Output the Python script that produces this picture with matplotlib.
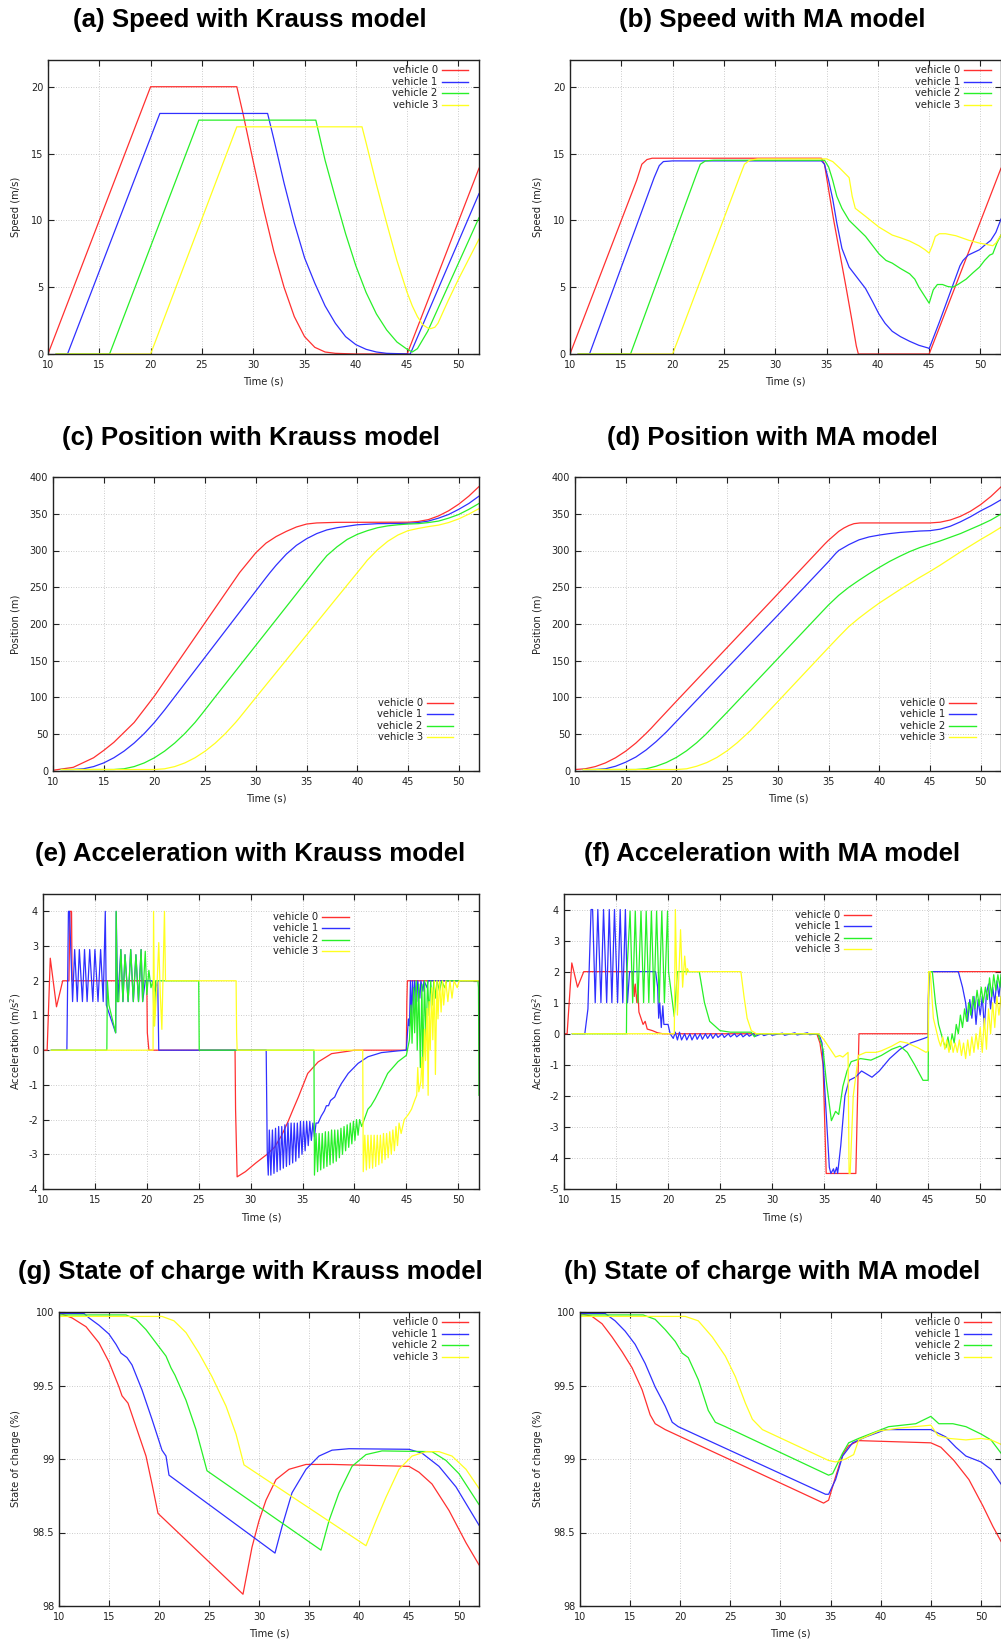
import matplotlib
matplotlib.use("Agg")
import matplotlib.pyplot as plt
from matplotlib.lines import Line2D
from matplotlib.ticker import FormatStrFormatter

W, H = 1001, 1643
COLORS = ['#ff3030', '#3030ff', '#28f028', '#ffff20']
LABELS = ['vehicle 0', 'vehicle 1', 'vehicle 2', 'vehicle 3']

# ---- speed, Krauss (t, m/s)
spd_k0 = [(10, 0), (20, 20), (28.4, 20), (29, 18), (30, 14.4), (31, 10.9), (32, 7.7), (33, 5.0),
          (34, 2.8), (35, 1.3), (36, 0.5), (37, 0.15), (38, 0.05), (40, 0), (45, 0), (52, 13.9)]
spd_k1 = [(10.8, 0), (11.9, 0), (20.9, 18), (31.4, 18), (32, 16.1), (33, 12.8), (34, 9.8), (35, 7.2),
          (36, 5.3), (37, 3.6), (38, 2.3), (39, 1.3), (40, 0.7), (41, 0.35), (42, 0.15), (43, 0.05),
          (45.3, 0), (52, 12.0)]
spd_k2 = [(10.8, 0), (16.0, 0), (24.7, 17.5), (36.1, 17.5), (37, 14.5), (38, 11.7), (39, 9.0), (40, 6.6),
          (41, 4.6), (42, 3.0), (43, 1.8), (44, 0.9), (45, 0.35), (45.5, 0.15), (46, 0.4), (47, 1.7),
          (48, 3.4), (49, 5.1), (50, 6.8), (51, 8.5), (52, 10.2)]
spd_k3 = [(10.8, 0), (20.0, 0), (28.4, 17), (40.6, 17), (41, 15.8), (42, 12.7), (43, 9.8), (44, 7.0),
          (45, 4.6), (45.5, 3.6), (46, 2.8), (46.5, 2.2), (47, 1.95), (47.3, 1.9), (47.7, 2.0), (48, 2.3),
          (49, 4.0), (50, 5.6), (51, 7.1), (52, 8.6)]

# ---- speed, MA
spd_m0 = [(10, 0), (16.5, 13.0), (17, 14.2), (17.5, 14.55), (18, 14.65), (34.5, 14.65), (34.8, 14.2),
          (35.2, 12.3), (35.7, 10.0), (36.3, 7.5), (36.9, 5.0), (37.5, 2.4), (37.9, 0.6), (38.1, 0),
          (45, 0), (52, 13.9)]
spd_m1 = [(10.8, 0), (11.9, 0), (18.2, 13.2), (18.7, 14.1), (19.1, 14.4), (20, 14.45), (34.5, 14.45),
          (34.8, 14.2), (35.2, 13.0), (35.6, 11.6), (36, 9.8), (36.5, 7.9), (37.2, 6.5), (38, 5.7),
          (38.8, 4.9), (39.5, 3.9), (40.1, 3.0), (40.7, 2.3), (41.4, 1.7), (42.2, 1.3), (43.1, 0.95),
          (44, 0.65), (44.9, 0.45), (45, 0.4), (46, 2.4), (47, 4.5), (48, 6.6), (48.3, 7.0), (48.8, 7.4),
          (49.9, 7.8), (50.5, 8.2), (51, 8.5), (51.5, 9.1), (52, 10.1)]
spd_m2 = [(10.8, 0), (15.9, 0), (22.3, 13.4), (22.7, 14.2), (23.2, 14.45), (24, 14.5), (34.8, 14.5),
          (35.2, 14.0), (35.6, 13.0), (36, 11.8), (36.5, 10.9), (37.2, 10.0), (38, 9.4), (38.8, 8.8),
          (39.5, 8.1), (40.1, 7.5), (40.8, 7.0), (41.4, 6.8), (42.2, 6.4), (43.1, 6.0), (43.6, 5.6),
          (44, 5.0), (44.5, 4.4), (45, 3.8), (45.4, 4.8), (45.8, 5.2), (46.3, 5.2), (46.8, 5.05),
          (47.3, 5.0), (47.8, 5.2), (48.6, 5.6), (49.3, 6.1), (49.9, 6.5), (50.4, 7.0), (50.9, 7.4),
          (51.2, 7.5), (51.6, 8.3), (52, 8.9)]
spd_m3 = [(10.8, 0), (20.0, 0), (26.6, 13.4), (27.0, 14.2), (27.5, 14.5), (28.3, 14.6), (35, 14.6),
          (35.6, 14.4), (36.3, 13.9), (37.2, 13.2), (37.5, 11.8), (37.8, 10.9), (38.3, 10.6), (38.8, 10.3),
          (40.1, 9.5), (41.4, 8.9), (42.2, 8.7), (43.1, 8.45), (44, 8.1), (44.6, 7.8), (45, 7.55),
          (45.3, 8.1), (45.6, 8.8), (46, 9.0), (46.6, 9.0), (47.6, 8.85), (48.9, 8.5), (49.9, 8.3),
          (50.9, 8.15), (51.2, 8.1), (51.5, 8.3), (52, 8.9)]

# ---- position, Krauss (t, m)
pos_k0 = [(10, 1), (12, 5), (14, 18), (15, 28), (16, 39), (18, 66), (20, 102), (22, 142), (24, 182),
          (26, 222), (28, 262), (28.4, 270), (30, 297), (31, 310), (32, 319), (33, 326), (34, 332),
          (35, 336), (36, 337.5), (38, 338.3), (45, 338.5), (46, 339.5), (47, 342), (48, 347), (49, 354),
          (50, 363), (51, 374), (52, 387)]
pos_k1 = [(10.8, 2), (12, 2), (13, 3), (14, 6), (15, 11), (16, 18), (17, 27), (18, 38), (19, 51),
          (20, 66), (21, 83), (23, 119), (25, 155), (27, 191), (29, 227), (31, 263), (31.4, 270),
          (32, 280), (33, 295), (34, 307), (35, 316), (36, 323), (37, 328), (38, 331), (40, 335),
          (42, 336.5), (45, 337), (46, 338), (47, 340), (48, 344), (49, 349), (50, 356), (51, 364),
          (52, 374)]
pos_k2 = [(10.8, 2), (16, 2), (17, 3), (18, 6), (19, 11), (20, 18), (21, 27), (22, 38), (23, 51),
          (24, 66), (24.7, 78), (26, 101), (28, 136), (30, 171), (32, 206), (34, 241), (36.1, 278),
          (37, 293), (38, 305), (39, 315), (40, 322), (41, 327), (42, 331), (43, 333.5), (44, 335),
          (45, 336), (46, 336.5), (47, 338), (48, 340), (49, 344), (50, 349), (51, 356), (52, 364)]
pos_k3 = [(10.8, 2), (20, 2), (21, 3), (22, 6), (23, 11), (24, 18), (25, 27), (26, 38), (27, 51),
          (28, 66), (28.4, 72.6), (30, 100), (32, 134), (34, 168), (36, 202), (38, 236), (40.6, 280),
          (41, 287), (42, 301), (43, 312.5), (44, 321), (45, 327), (46, 330), (47, 332.5), (48, 334.5),
          (49, 338), (50, 343), (51, 349.5), (52, 357)]

# ---- position, MA
pos_m0 = [(10, 2), (11, 3), (12, 6), (13, 11), (14, 18), (15, 27), (16, 38), (17, 51), (17.5, 58),
          (18, 65.5), (20, 95), (25, 168), (30, 241), (34.6, 308.5), (35, 314), (35.5, 320), (36, 326),
          (36.5, 330.5), (37, 334), (37.5, 336.5), (38.1, 337.5), (45, 337.5), (46, 338.5), (47, 341.5),
          (48, 346.5), (49, 353.5), (50, 362.5), (51, 373.5), (52, 386.5)]
pos_m1 = [(10.8, 2), (12, 2), (13, 3), (14, 6.5), (15, 12), (16, 19), (17, 28.5), (18, 40), (19, 53),
          (20, 67.5), (25, 140), (30, 212), (35, 285), (35.7, 296), (36, 300), (37, 308), (38, 314.5),
          (39, 318.5), (40, 321), (41, 323), (42, 324.5), (43, 325.5), (44, 326.5), (45, 327), (46, 329),
          (47, 333), (48, 339), (49, 346), (50, 354), (51, 361), (52, 369)]
pos_m2 = [(10.8, 2), (16, 2), (17, 3), (18, 6.5), (19, 11.5), (20, 18.5), (21, 27.5), (22, 38.5),
          (22.9, 50), (25, 80), (30, 153), (35, 226), (36, 239), (37, 250), (38, 259.5), (39, 268.5),
          (40, 277), (41, 285), (42, 292), (43, 298.5), (44, 304), (45, 308.5), (46, 313), (47, 318),
          (48, 323), (49, 329), (50, 335), (51, 341.5), (52, 349.5)]
pos_m3 = [(10.8, 2), (20, 2), (21, 3), (22, 6.5), (23, 11.5), (24, 18.5), (25, 27.5), (26, 38.5),
          (27.3, 55), (30, 94.5), (35, 168), (36, 182.5), (37, 196.5), (38, 208), (39, 218.5),
          (40, 228.5), (41, 237.5), (42, 246.5), (43, 255), (44, 263.5), (45, 271.5), (46, 280),
          (47, 289), (48, 298), (49, 306.5), (50, 315), (51, 323), (52, 331.5)]

# ---- acceleration, Krauss (t, m/s^2)
acc_k0 = [(10, 0), (10.4, 0), (10.7, 2.65), (11.3, 1.25), (11.9, 2.0), (12.5, 2.0), (12.6, 4.0),
          (12.75, 4.0), (12.8, 2.0), (20.0, 2.0), (20.05, 0.5), (20.2, 0.0), (28.5, 0.0), (28.55, -1.7),
          (28.7, -3.65), (29.5, -3.5), (30.5, -3.25), (31.5, -3.02), (32.3, -2.8), (33, -2.45),
          (33.6, -2.06), (34.1, -1.7), (34.6, -1.35), (35.5, -0.67), (36.5, -0.34), (37.8, -0.1),
          (39.4, -0.03), (40, 0), (45, 0), (45.05, 1.4), (45.1, 2.0), (52, 2.0)]
acc_k1 = [(10.8, 0), (12.3, 0), (12.45, 4.0), (12.55, 4.0), (12.85, 1.4), (13.05, 2.9), (13.3, 1.4),
          (13.5, 2.9), (13.8, 1.4), (14.0, 2.9), (14.25, 1.4), (14.5, 2.9), (14.8, 1.4), (15.0, 2.9),
          (15.3, 1.4), (15.55, 2.9), (15.8, 1.4), (16.0, 4.0), (16.1, 1.3), (17.0, 0.5), (17.05, 4.0),
          (17.2, 1.4), (17.5, 2.9), (17.7, 1.4), (17.9, 2.75), (18.2, 1.4), (18.45, 2.9), (18.7, 1.4),
          (18.95, 2.75), (19.2, 1.4), (19.45, 2.9), (19.6, 1.4), (19.85, 2.0), (20.5, 2.0), (20.8, 1.7),
          (21.05, 2.0), (21.15, 0), (31.5, 0), (31.6, -2.9), (31.7, -3.6), (31.8, -2.3), (31.95, -3.6),
          (32.1, -2.3), (32.25, -3.55), (32.4, -2.25), (32.55, -3.5), (32.7, -2.2), (32.85, -3.45),
          (33.0, -2.2), (33.15, -3.4), (33.3, -2.15), (33.45, -3.35), (33.6, -2.1), (33.75, -3.3),
          (33.9, -2.1), (34.05, -3.25), (34.2, -2.1), (34.35, -3.2), (34.5, -2.1), (34.65, -3.1),
          (34.8, -2.05), (34.95, -3.0), (35.1, -2.05), (35.25, -2.9), (35.4, -2.05), (35.55, -2.75),
          (35.7, -2.05), (35.85, -2.6), (36.0, -2.1), (36.15, -2.5), (36.3, -2.1), (36.5, -2.1),
          (36.8, -1.9), (37.1, -1.75), (37.3, -1.6), (37.5, -1.6), (37.7, -1.45), (38.1, -1.35),
          (38.4, -1.15), (38.75, -0.96), (39.4, -0.67), (40.35, -0.38), (41.3, -0.19), (42.6, -0.07),
          (44.2, -0.02), (45.0, 0), (45.2, 0.9), (45.3, 0.7), (45.4, 2.0), (45.5, 0.9), (45.6, 2.0),
          (45.7, 1.2), (45.8, 2.0), (46.0, 1.4), (46.1, 2.0), (46.3, 1.5), (46.4, 2.0), (46.6, 1.7),
          (46.7, 2.0), (47.0, 1.8), (47.1, 2.0), (52, 2.0)]
acc_k2 = [(10.8, 0), (16.15, 0), (16.2, 2.0), (16.35, 1.3), (17.0, 0.5), (17.05, 4.0), (17.15, 1.4),
          (17.3, 1.4), (17.5, 2.9), (17.7, 1.4), (17.9, 2.75), (18.2, 1.4), (18.45, 2.9), (18.7, 1.4),
          (18.95, 2.75), (19.2, 1.4), (19.45, 2.9), (19.6, 1.4), (19.85, 2.85), (20.0, 1.6), (20.2, 2.3),
          (20.4, 1.8), (20.6, 2.0), (20.7, 0.7), (20.85, 2.0), (25.0, 2.0), (25.05, 0.0), (36.1, 0),
          (36.15, -3.6), (36.3, -2.4), (36.45, -3.5), (36.6, -2.4), (36.75, -3.45), (36.9, -2.4),
          (37.05, -3.4), (37.2, -2.35), (37.35, -3.35), (37.5, -2.35), (37.65, -3.3), (37.8, -2.3),
          (37.95, -3.25), (38.1, -2.3), (38.25, -3.2), (38.4, -2.3), (38.55, -3.1), (38.7, -2.25),
          (38.85, -3.0), (39.0, -2.2), (39.15, -2.9), (39.3, -2.15), (39.45, -2.8), (39.6, -2.1),
          (39.75, -2.7), (39.9, -2.05), (40.05, -2.6), (40.2, -2.0), (40.35, -2.45), (40.5, -2.0),
          (40.7, -2.2), (41.0, -1.95), (41.3, -1.7), (41.6, -1.6), (42.0, -1.4), (42.6, -1.05),
          (43.2, -0.67), (44.2, -0.33), (45.0, -0.15), (45.3, 0.3), (45.45, 1.3), (45.55, 0.2),
          (45.7, 1.8), (45.8, 0.5), (45.95, 2.0), (46.05, 0.0), (46.2, 1.9), (46.35, -0.5), (46.5, 1.9),
          (46.6, -0.6), (46.75, 2.0), (46.9, 0.3), (47.05, 2.0), (47.2, 1.0), (47.35, 2.0), (47.5, 1.3),
          (47.65, 2.0), (47.8, 1.5), (47.95, 2.0), (48.2, 1.7), (48.4, 2.0), (48.7, 1.8), (48.9, 2.0),
          (51.9, 2.0), (51.95, 1.8), (52.0, -1.3)]
acc_k3 = [(10.8, 0), (20.6, 0), (20.65, 4.0), (20.75, 0.7), (21.0, 2.0), (21.15, 3.1), (21.3, 1.6),
          (21.45, 0.6), (21.7, 4.0), (21.8, 2.0), (28.6, 2.0), (28.65, 0.5), (28.7, 0), (40.8, 0),
          (40.85, -3.5), (41.0, -2.45), (41.15, -3.45), (41.3, -2.45), (41.45, -3.4), (41.6, -2.45),
          (41.75, -3.4), (41.9, -2.45), (42.05, -3.35), (42.2, -2.45), (42.35, -3.3), (42.5, -2.45),
          (42.65, -3.25), (42.8, -2.4), (42.95, -3.15), (43.1, -2.4), (43.25, -3.1), (43.4, -2.35),
          (43.55, -3.0), (43.7, -2.3), (43.85, -2.9), (44.0, -2.2), (44.15, -2.75), (44.3, -2.1),
          (44.5, -2.4), (44.8, -2.0), (45.2, -1.85), (45.5, -1.7), (45.8, -1.45), (46.0, -1.3),
          (46.1, -0.5), (46.2, -1.2), (46.4, -0.9), (46.5, -0.2), (46.6, -1.1), (46.75, 0.6),
          (46.85, -0.3), (47.0, 1.2), (47.1, -1.3), (47.2, 1.4), (47.3, 0.0), (47.45, 1.8), (47.55, 0.3),
          (47.7, 2.0), (47.8, -0.7), (47.95, 2.0), (48.05, 0.9), (48.2, 2.0), (48.35, 1.1), (48.5, 2.0),
          (48.6, 1.3), (48.8, 2.0), (49.0, 1.4), (49.2, 2.0), (49.4, 1.5), (49.6, 2.0), (49.9, 1.8),
          (50.1, 2.0), (52, 2.0)]

# ---- acceleration, MA
acc_m0 = [(10, 0), (10.3, 0), (10.75, 2.28), (11.3, 1.5), (11.9, 2.0), (16.6, 2.0), (16.75, 1.2),
          (16.85, 1.6), (17.0, 1.0), (17.1, 1.4), (17.2, 0.7), (17.4, 0.5), (17.6, 0.3), (17.8, 0.4),
          (18.0, 0.15), (18.5, 0.1), (19.0, 0.03), (19.5, 0.0), (34.3, 0), (34.6, -0.3), (34.9, -1.0),
          (35.2, -4.5), (38.05, -4.5), (38.35, 0), (45.0, 0), (45.05, 2.0), (52, 2.0)]
acc_m1 = [(10.8, 0), (12.0, 0), (12.3, 0.8), (12.6, 4.0), (12.75, 4.0), (13.0, 1.0), (13.25, 4.0),
          (13.55, 1.0), (13.8, 4.0), (14.1, 1.0), (14.35, 4.0), (14.6, 1.0), (14.85, 4.0), (15.15, 1.0),
          (15.4, 4.0), (15.65, 1.0), (15.9, 4.0), (16.1, 1.0), (16.3, 2.0), (18.8, 2.0), (19.0, 1.5),
          (19.1, 0.5), (19.2, 1.0), (19.35, 0.2), (19.5, 0.9), (19.6, 0.3), (20.0, 0.3), (20.2, 0.0),
          (20.5, -0.15), (20.7, 0.05), (20.9, -0.2), (21.1, 0.05), (21.3, -0.2), (21.6, 0.0),
          (21.8, -0.2), (22.1, 0.0), (22.3, -0.2), (22.6, 0.0), (22.8, -0.18), (23.1, 0.0), (23.3, -0.18),
          (23.6, 0.0), (23.8, -0.15), (24.1, 0.0), (24.3, -0.15), (24.6, 0.0), (24.8, -0.12),
          (25.2, 0.0), (25.4, -0.12), (25.8, 0.0), (26.0, -0.1), (26.4, 0.0), (26.6, -0.1), (27.0, 0.0),
          (27.2, -0.1), (27.6, 0.0), (27.8, -0.08), (28.2, 0.0), (28.4, -0.08), (29.0, 0.0),
          (29.2, -0.06), (29.8, 0.0), (30.0, -0.05), (31.0, 0.02), (31.2, -0.05), (32.2, 0.03),
          (32.4, -0.04), (33.4, 0.03), (33.6, -0.03), (34.5, 0), (34.8, -0.3), (35.1, -2.0),
          (35.5, -4.3), (35.65, -4.5), (35.9, -4.35), (36.0, -4.5), (36.2, -4.3), (36.3, -4.5),
          (36.6, -3.6), (37.0, -2.0), (37.4, -1.5), (38.0, -1.4), (38.6, -1.2), (39.1, -1.3),
          (39.6, -1.4), (40.3, -1.2), (41.3, -0.8), (42.3, -0.5), (43.3, -0.3), (44.6, -0.15),
          (45.0, -0.1), (45.02, 1.1), (45.1, 2.0), (47.9, 2.0), (48.3, 1.5), (48.6, 1.0), (48.8, 0.4),
          (49.0, 1.1), (49.2, 0.5), (49.4, 1.2), (49.6, 0.3), (49.8, 1.1), (50.0, 0.6), (50.2, 1.2),
          (50.4, 0.2), (50.6, 1.3), (50.8, 1.6), (51.0, 0.8), (51.2, 1.5), (51.4, 1.0), (51.6, 1.7),
          (51.8, 1.2), (52, 1.8)]
acc_m2 = [(10.8, 0), (16.0, 0), (16.05, 2.0), (16.35, 3.95), (16.6, 1.0), (16.85, 3.95), (17.1, 1.0),
          (17.4, 3.95), (17.65, 1.0), (17.9, 3.95), (18.15, 1.0), (18.4, 3.95), (18.65, 1.0),
          (18.9, 3.95), (19.15, 1.0), (19.4, 3.95), (19.65, 1.0), (19.95, 3.95), (20.05, 2.0),
          (20.6, 0.55), (20.9, 2.0), (23.0, 2.0), (23.5, 1.0), (24.0, 0.4), (25.0, 0.1), (26.0, 0.05),
          (28.0, 0.05), (28.3, -0.1), (28.6, 0), (34.4, 0), (34.9, -0.5), (35.2, -1.5), (35.7, -2.8),
          (36.1, -2.5), (36.4, -2.6), (36.8, -1.7), (37.2, -1.2), (37.6, -0.9), (38.5, -0.8),
          (39.5, -0.85), (40.5, -0.7), (41.5, -0.5), (42.3, -0.4), (43.0, -0.6), (43.7, -1.0),
          (44.5, -1.5), (45.0, -1.5), (45.05, 2.0), (45.4, 2.0), (45.7, 1.0), (46.0, 0.3), (46.5, -0.3),
          (46.7, -0.45), (46.9, -0.1), (47.1, -0.5), (47.3, 0.0), (47.5, -0.3), (47.7, 0.3), (47.9, 0.0),
          (48.1, 0.6), (48.3, 0.2), (48.5, 0.8), (48.7, 0.4), (48.9, 1.0), (49.1, 0.6), (49.3, 1.2),
          (49.5, 0.8), (49.7, 1.4), (49.9, 0.9), (50.1, 1.5), (50.3, 1.0), (50.5, 1.5), (50.7, 1.1),
          (50.9, 1.8), (51.1, 1.2), (51.3, 1.9), (51.5, 1.4), (51.7, 1.9), (51.9, 1.5), (52, 1.9)]
acc_m3 = [(10.8, 0), (20.6, 0), (20.7, 4.0), (20.9, 0.6), (21.2, 3.35), (21.4, 1.5), (21.6, 2.5),
          (21.75, 1.9), (21.85, 2.1), (22.0, 2.0), (27.0, 2.0), (27.3, 1.2), (27.6, 0.5), (28.0, 0.1),
          (28.5, 0), (34.5, 0), (35.0, -0.2), (35.6, -0.5), (36.1, -0.75), (36.5, -0.7), (36.8, -0.75),
          (37.3, -0.6), (37.4, -4.5), (37.5, -4.5), (37.8, -2.0), (38.3, -0.7), (39.0, -0.6),
          (40.0, -0.6), (40.5, -0.55), (41.5, -0.4), (42.3, -0.25), (43.0, -0.3), (44.0, -0.45),
          (44.8, -0.6), (45.0, -0.55), (45.05, 2.0), (45.2, 2.0), (45.5, 0.5), (46.0, -0.2), (46.2, -0.4),
          (46.4, -0.1), (46.6, -0.5), (46.8, -0.2), (47.0, -0.6), (47.2, -0.2), (47.4, -0.6),
          (47.6, -0.3), (47.8, -0.6), (48.0, -0.2), (48.2, -0.7), (48.4, -0.3), (48.6, -0.8),
          (48.8, -0.2), (49.0, -0.7), (49.2, -0.1), (49.4, -0.6), (49.6, 0.0), (49.8, -0.5), (50.0, 0.2),
          (50.2, -0.6), (50.4, 0.5), (50.6, -0.5), (50.8, 0.8), (51.0, 0.0), (51.2, 1.0), (51.4, 0.2),
          (51.6, 1.2), (51.8, 0.6), (52, 1.2)]

# ---- state of charge, Krauss (t, %)
soc_k0 = [(10, 99.993), (11.3, 99.96), (12.7, 99.9), (14, 99.79), (15, 99.66), (16, 99.49), (16.3, 99.43),
          (16.9, 99.38), (17.7, 99.22), (18.7, 99.02), (19.3, 98.83), (19.9, 98.63), (28.4, 98.08),
          (29.3, 98.4), (30, 98.58), (30.7, 98.72), (31.7, 98.86), (33, 98.93), (34.7, 98.963),
          (37.3, 98.963), (45, 98.95), (46, 98.91), (47.3, 98.83), (49, 98.65), (50.7, 98.43), (52, 98.28)]
soc_k1 = [(10, 99.99), (12.5, 99.99), (13, 99.96), (14, 99.91), (15, 99.85), (15.7, 99.78), (16.2, 99.72),
          (16.8, 99.69), (17.3, 99.64), (18.3, 99.47), (19.3, 99.27), (20.3, 99.06), (20.7, 99.02),
          (21, 98.89), (31.6, 98.36), (32.3, 98.54), (33.3, 98.77), (34.7, 98.93), (36, 99.02),
          (37.3, 99.06), (39, 99.07), (45, 99.066), (46.3, 99.04), (48, 98.95), (49.7, 98.81),
          (52, 98.55)]
soc_k2 = [(10, 99.98), (16.7, 99.98), (17.7, 99.95), (18.7, 99.88), (19.7, 99.79), (20.7, 99.7),
          (21.2, 99.62), (21.6, 99.57), (22.7, 99.4), (23.7, 99.2), (24.8, 98.92), (36.2, 98.38),
          (37, 98.58), (38, 98.77), (39.3, 98.95), (40.7, 99.03), (42.3, 99.055), (47.3, 99.05),
          (48.7, 98.99), (50, 98.9), (52, 98.69)]
soc_k3 = [(10, 99.97), (20.3, 99.97), (21.5, 99.94), (22.7, 99.86), (24, 99.72), (25.3, 99.56),
          (26.7, 99.36), (27.7, 99.17), (28.5, 98.96), (40.7, 98.41), (41.7, 98.58), (42.7, 98.74),
          (44, 98.93), (45.3, 99.02), (46.7, 99.05), (48, 99.05), (49.3, 99.02), (50.7, 98.93),
          (52, 98.8)]

# ---- state of charge, MA
soc_m0 = [(10, 99.99), (11.2, 99.97), (12.2, 99.92), (13.2, 99.83), (14.2, 99.73), (15.2, 99.62),
          (16.2, 99.47), (17, 99.3), (17.5, 99.24), (18.5, 99.2), (34.3, 98.7), (34.8, 98.72),
          (35.5, 98.88), (36.2, 99.03), (36.8, 99.09), (37.8, 99.125), (45, 99.11), (46, 99.08),
          (47.3, 98.99), (48.8, 98.86), (50.2, 98.68), (51.2, 98.54), (52, 98.44)]
soc_m1 = [(10, 99.99), (12.5, 99.99), (13.5, 99.94), (14.5, 99.87), (15.5, 99.78), (16.5, 99.65),
          (17.5, 99.49), (18.5, 99.36), (19.2, 99.25), (19.8, 99.22), (34.5, 98.76), (34.8, 98.76),
          (35.5, 98.86), (36.2, 99.02), (37.2, 99.11), (38.5, 99.15), (40.5, 99.2), (45, 99.2),
          (46.5, 99.15), (47.5, 99.08), (48.5, 99.02), (50, 98.98), (51, 98.93), (52, 98.83)]
soc_m2 = [(10, 99.98), (16.3, 99.98), (17.5, 99.95), (18.5, 99.88), (19.5, 99.8), (20.2, 99.72),
          (20.8, 99.69), (21.8, 99.54), (22.8, 99.33), (23.5, 99.25), (24.5, 99.22), (34.8, 98.89),
          (35.2, 98.9), (36.2, 99.04), (36.8, 99.11), (37.8, 99.14), (40.8, 99.22), (43.5, 99.24),
          (45, 99.29), (45.8, 99.24), (47.2, 99.24), (48.5, 99.22), (50, 99.17), (51, 99.13),
          (52, 99.04)]
soc_m3 = [(10, 99.97), (20.5, 99.97), (21.8, 99.94), (23.2, 99.83), (24.5, 99.7), (25.5, 99.56),
          (26.5, 99.38), (27.2, 99.27), (28.2, 99.2), (34.8, 98.99), (35.5, 98.98), (36.5, 99.0),
          (37.3, 99.03), (37.8, 99.13), (39.8, 99.19), (41.8, 99.21), (45, 99.23), (45.7, 99.16),
          (46.8, 99.14), (48.5, 99.13), (50, 99.14), (51, 99.13), (52, 99.1)]

TIME_TICKS = [10, 15, 20, 25, 30, 35, 40, 45, 50]

fig = plt.figure(figsize=(W / 100, H / 100), dpi=100)


def px_box(l, t, r, b):
    return [l / W, 1 - b / H, (r - l) / W, (b - t) / H]


def key(x_right, y_first):
    # gnuplot style key: text right-aligned, sample line on the right
    for i, (lab, c) in enumerate(zip(LABELS, COLORS)):
        y = 1 - (y_first + i * 11.4) / H
        fig.text(x_right / W, y, lab, ha='right', va='center', fontsize=7.2, color='#222222')
        fig.add_artist(Line2D([(x_right + 4) / W, (x_right + 30.5) / W], [y, y],
                              color=c, lw=1.0, transform=fig.transFigure))


def panel(box, series, ylim, yticks, ylabel, title, title_x, key_at, fmt='%g'):
    l, t, r, b = box
    ax = fig.add_axes(px_box(l, t, r, b))
    for pts, c in zip(series, COLORS):
        ax.plot([p[0] for p in pts], [p[1] for p in pts], color=c, lw=0.9)
    ax.set_xlim(10, 52)
    ax.set_ylim(*ylim)
    ax.set_xticks(TIME_TICKS)
    ax.set_yticks(yticks)
    ax.yaxis.set_major_formatter(FormatStrFormatter(fmt))
    ax.grid(True, linestyle=(0, (1, 2)), color='#bbbbbb', lw=0.6)
    ax.tick_params(direction='in', length=4.5, width=0.8, top=True, right=True,
                   labelsize=7, colors='#222222')
    ax.tick_params(axis='x', pad=4.5)
    ax.tick_params(axis='y', pad=3.5)
    for s in ax.spines.values():
        s.set_linewidth(1.0)
        s.set_color('#222222')
    fig.text((l + r) / 2 / W, 1 - (b + 28) / H, 'Time (s)', ha='center', va='center',
             fontsize=7.2, color='#222222')
    ylab_x = 16 if l < 300 else 538
    fig.text(ylab_x / W, 1 - (t + b) / 2 / H, ylabel, ha='center', va='center', rotation=90,
             fontsize=7.2, color='#222222')
    fig.text(title_x / W, 1 - (t - 32.5) / H, title, ha='center', va='baseline',
             fontsize=18.6, fontweight='bold', family='Liberation Sans')
    key(*key_at)
    return ax


panel((48, 60, 479, 354), [spd_k0, spd_k1, spd_k2, spd_k3], (0, 22), [0, 5, 10, 15, 20],
      'Speed (m/s)', '(a) Speed with Krauss model', 250, (437.7, 70.3))
panel((570, 60, 1001, 354), [spd_m0, spd_m1, spd_m2, spd_m3], (0, 22), [0, 5, 10, 15, 20],
      'Speed (m/s)', '(b) Speed with MA model', 772, (960, 70.3))
panel((53, 477, 479, 771), [pos_k0, pos_k1, pos_k2, pos_k3], (0, 400), list(range(0, 401, 50)),
      'Position (m)', '(c) Position with Krauss model', 251, (422.7, 703))
panel((575, 477, 1001, 771), [pos_m0, pos_m1, pos_m2, pos_m3], (0, 400), list(range(0, 401, 50)),
      'Position (m)', '(d) Position with MA model', 772, (945, 703))
panel((43, 894, 479, 1189), [acc_k0, acc_k1, acc_k2, acc_k3], (-4, 4.5), list(range(-4, 5)),
      'Acceleration (m/s$^2$)', '(e) Acceleration with Krauss model', 250, (318.3, 916.7))
panel((564, 894, 1001, 1189), [acc_m0, acc_m1, acc_m2, acc_m3], (-5, 4.5), list(range(-5, 5)),
      'Acceleration (m/s$^2$)', '(f) Acceleration with MA model', 772, (840, 915))
panel((59, 1312, 479, 1606), [soc_k0, soc_k1, soc_k2, soc_k3], (98, 100), [98, 98.5, 99, 99.5, 100],
      'State of charge (%)', '(g) State of charge with Krauss model', 250, (437.7, 1322.3))
panel((580, 1312, 1001, 1606), [soc_m0, soc_m1, soc_m2, soc_m3], (98, 100), [98, 98.5, 99, 99.5, 100],
      'State of charge (%)', '(h) State of charge with MA model', 772, (960, 1322.3))

fig.savefig('out.png', dpi=100, facecolor='white')
